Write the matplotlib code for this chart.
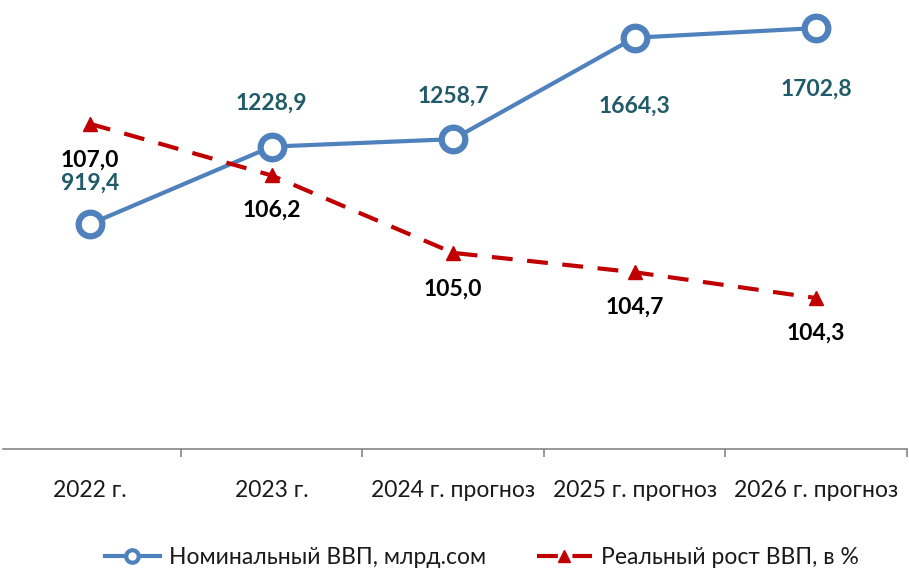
import matplotlib
matplotlib.use("Agg")
import matplotlib.pyplot as plt
from matplotlib import font_manager
from matplotlib.lines import Line2D

categories = ["2022 г.", "2023 г.", "2024 г. прогноз", "2025 г. прогноз", "2026 г. прогноз"]
nominal_gdp = [919.4, 1228.9, 1258.7, 1664.3, 1702.8]
real_growth = [107.0, 106.2, 105.0, 104.7, 104.3]

nominal_label = "Номинальный ВВП, млрд.сом"
real_label = "Реальный рост ВВП, в %"

# label offsets in points (Excel-style above/below)
nominal_offsets = [29.5, 31, 31, -49, -44]
real_offsets = [-26, -25, -26, -25, -25]

BLUE = "#4F81BD"
RED = "#C00000"
TEAL = "#215B6A"

names = {f.name for f in font_manager.fontManager.ttflist}
label_font = "Lato" if "Lato" in names else "DejaVu Sans"

plt.rcParams["font.family"] = [label_font, "DejaVu Sans"]

fig = plt.figure(figsize=(9.09, 5.74), dpi=100)
ax = fig.add_axes([3 / 909, 1 - 449 / 574, 904 / 909, 449 / 574])
ax2 = ax.twinx()

x = list(range(len(categories)))

ax.plot(x, nominal_gdp, color=BLUE, lw=3, marker="o", ms=17, mfc="white",
        mec=BLUE, mew=4.5, zorder=3)
ax2.plot(x, real_growth, color=RED, lw=3, ls=(0, (5, 3.5)), marker="^", ms=10,
         mfc=RED, mec=RED, zorder=3)

ax.set_xlim(-0.48, len(categories) - 0.5)
ax.set_ylim(20, 1815)
ax2.set_ylim(101.96, 108.92)

for xi, v, off in zip(x, nominal_gdp, nominal_offsets):
    ax.annotate(f"{v:.1f}".replace(".", ","), (xi, v), xytext=(0, off),
                textcoords="offset points", ha="center", va="center",
                fontsize=16.5, fontweight="bold", color=TEAL)
for xi, v, off in zip(x, real_growth, real_offsets):
    ax2.annotate(f"{v:.1f}".replace(".", ","), (xi, v), xytext=(0, off),
                 textcoords="offset points", ha="center", va="center",
                 fontsize=16.5, fontweight="bold", color="black")

for a in (ax, ax2):
    for s in ("top", "right", "left"):
        a.spines[s].set_visible(False)
    a.set_yticks([])
ax.spines["bottom"].set_color("#868686")
ax.spines["bottom"].set_linewidth(1.2)
ax2.spines["bottom"].set_visible(False)

# category boundary ticks
ax.set_xticks([i + 0.5 for i in range(len(categories))], minor=True)
ax.tick_params(axis="x", which="minor", length=6, width=1.2, color="#868686")
ax.set_xticks(x)
ax.set_xticklabels(categories, fontsize=16.5, color="#1a1a1a")
ax.tick_params(axis="x", which="major", length=0, pad=22)

handles = [
    Line2D([], [], color=BLUE, lw=3, marker="o", ms=9, mfc="white", mec=BLUE, mew=3),
    Line2D([], [], color=RED, lw=3, ls=(0, (5, 3.5)), marker="^", ms=9, mfc=RED, mec=RED),
]
fig.legend(handles, [nominal_label, real_label], loc="center",
           bbox_to_anchor=(0.53, 0.028), ncol=2, frameon=False,
           handlelength=2.4, columnspacing=2.2, handletextpad=0.4,
           prop={"size": 16.5}, labelcolor="#1a1a1a")

fig.savefig("out.png", dpi=100, facecolor="white")
